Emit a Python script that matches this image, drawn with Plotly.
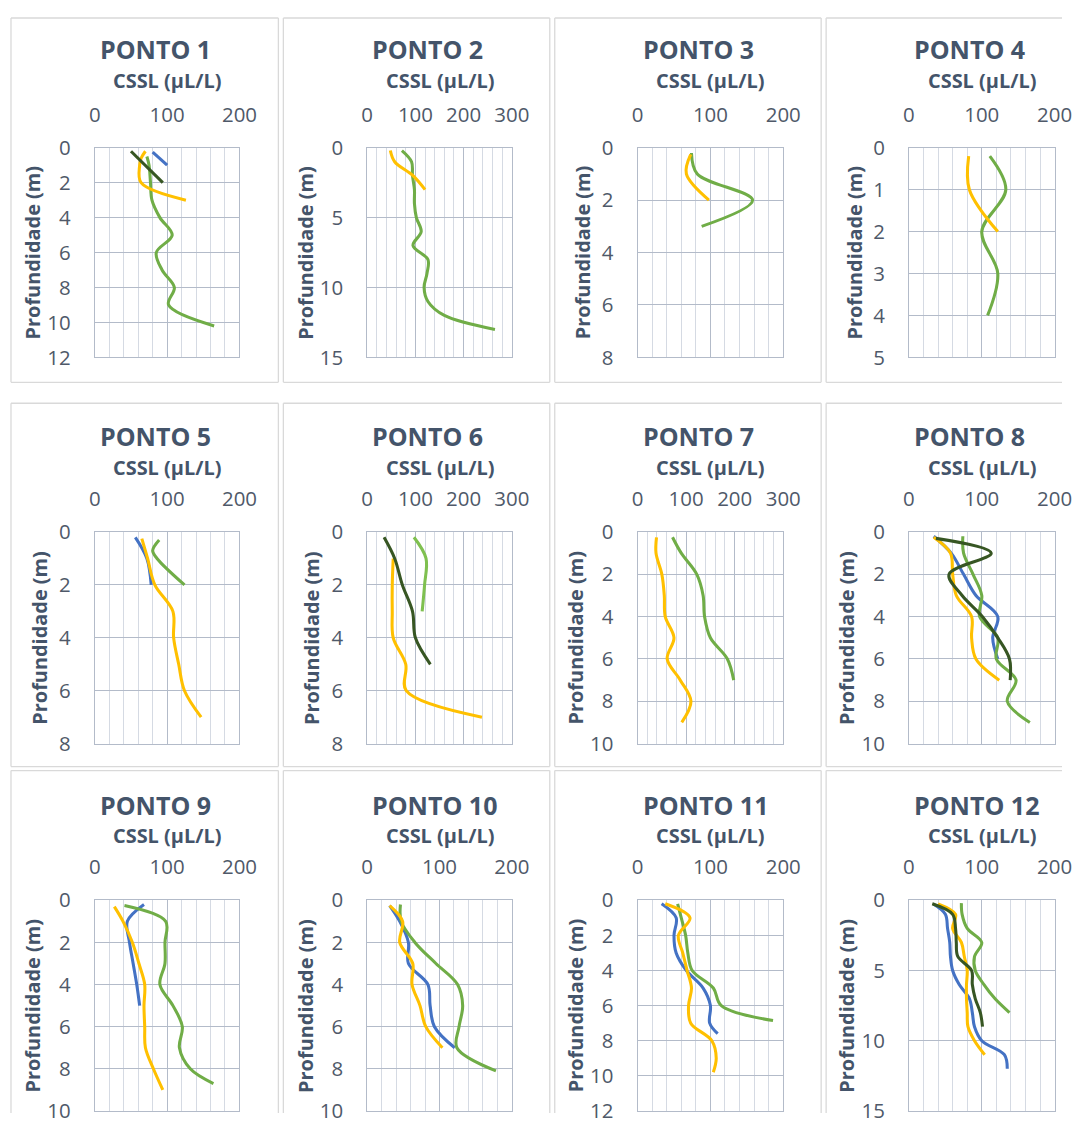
import plotly.graph_objects as go

# ---------------- DATA (profundidade em m, CSSL em µL/L) ----------------
p1_azul_prof = [0.25, 1.0]
p1_azul_cssl = [80, 100]
p1_amarelo_prof = [0.2, 0.6, 1, 2, 3]
p1_amarelo_cssl = [70, 64, 62, 64, 126]
p1_verde_prof = [0.5, 1, 2, 3, 4, 5, 6, 7, 8, 9, 10.2]
p1_verde_cssl = [72, 75, 77, 79, 90, 107, 85, 93, 110, 102, 165]
p1_escuro_prof = [0.2, 2.0]
p1_escuro_cssl = [50, 94]

p2_amarelo_prof = [0.2, 1, 2, 3]
p2_amarelo_cssl = [48, 57, 95, 120]
p2_verde_prof = [0.2, 1, 2, 3, 4, 5, 6, 7, 8, 9, 10, 11, 12, 13]
p2_verde_cssl = [72, 92, 94, 98, 98, 102, 112, 95, 126, 124, 118, 126, 160, 265]

p3_amarelo_prof = [0.25, 1, 2]
p3_amarelo_cssl = [73, 67, 98]
p3_verde_prof = [0.2, 1, 2, 3]
p3_verde_cssl = [74, 82, 158, 88]

p4_amarelo_prof = [0.2, 1, 2]
p4_amarelo_cssl = [82, 83, 122]
p4_verde_prof = [0.2, 1, 2, 3, 4]
p4_verde_cssl = [111, 133, 100, 122, 108]

p5_azul_prof = [0.2, 1, 2]
p5_azul_cssl = [56, 72, 78]
p5_amarelo_prof = [0.25, 1, 2, 3, 4, 5, 6, 7]
p5_amarelo_cssl = [65, 73, 83, 108, 109, 116, 124, 147]
p5_verde_prof = [0.3, 0.7, 1, 2]
p5_verde_cssl = [89, 80, 86, 124]

p6_amarelo_prof = [1, 2, 3, 4, 5, 6, 7]
p6_amarelo_cssl = [54, 52, 52, 54, 80, 81, 238]
p6_verdeclaro_prof = [0.2, 1, 2, 3]
p6_verdeclaro_cssl = [97, 122, 119, 114]
p6_escuro_prof = [0.2, 1, 2, 3, 4, 5]
p6_escuro_cssl = [35, 57, 73, 94, 100, 131]

p7_amarelo_prof = [0.25, 1, 2, 3, 4, 5, 6, 7, 8, 9]
p7_amarelo_cssl = [39, 38, 50, 55, 57, 75, 61, 88, 110, 91]
p7_verde_prof = [0.25, 1, 2, 3, 4, 5, 6, 7]
p7_verde_cssl = [72, 90, 122, 135, 138, 150, 185, 198]

p8_azul_prof = [0.2, 1, 2, 3, 4, 5, 6]
p8_azul_cssl = [34, 58, 75, 92, 122, 115, 122]
p8_amarelo_prof = [0.25, 1, 2, 3, 4, 5, 6, 7]
p8_amarelo_cssl = [34, 57, 60, 65, 86, 86, 92, 124]
p8_verde_prof = [0.2, 1, 2, 3, 4, 5, 6, 7, 8, 9]
p8_verde_cssl = [74, 75, 88, 100, 97, 122, 120, 147, 135, 166]
p8_escuro_prof = [0.3, 1, 2, 3, 4, 5, 6, 7]
p8_escuro_cssl = [37, 113, 55, 73, 101, 122, 138, 139]

p9_azul_prof = [0.2, 1, 2, 3, 4, 5]
p9_azul_cssl = [68, 45, 48, 53, 58, 62]
p9_amarelo_prof = [0.3, 1, 2, 3, 4, 5, 6, 7, 8, 9]
p9_amarelo_cssl = [27, 39, 52, 61, 69, 68, 69, 70, 81, 94]
p9_verde_prof = [0.25, 1, 2, 3, 4, 5, 6, 7, 8, 8.7]
p9_verde_cssl = [41, 98, 97, 97, 90, 108, 121, 117, 132, 164]

p10_azul_prof = [0.25, 1, 2, 3, 4, 5, 6, 7]
p10_azul_cssl = [31, 45, 57, 57, 84, 87, 93, 121]
p10_amarelo_prof = [0.25, 1, 2, 3, 4, 5, 6, 7]
p10_amarelo_cssl = [31, 49, 45, 63, 62, 73, 81, 104]
p10_verde_prof = [0.2, 1, 2, 3, 4, 5, 6, 7, 8.1]
p10_verde_cssl = [46, 47, 66, 95, 125, 132, 127, 124, 178]

p11_azul_prof = [0.2, 1, 2, 3, 4, 5, 6, 7, 7.6]
p11_azul_cssl = [33, 53, 50, 53, 67, 90, 100, 99, 110]
p11_amarelo_prof = [0.2, 1, 2, 3, 4, 5, 6, 7, 8, 9, 9.8]
p11_amarelo_cssl = [38, 72, 56, 62, 68, 74, 70, 73, 102, 108, 104]
p11_verde_prof = [0.2, 1, 2, 3, 4, 5, 6, 6.85]
p11_verde_cssl = [55, 60, 66, 69, 75, 104, 115, 186]

p12_azul_prof = [0.25, 1, 2, 3, 4, 5, 6, 7, 8, 9, 10, 11, 12]
p12_azul_cssl = [33, 50, 53, 56, 57, 60, 69, 83, 87, 90, 100, 131, 135]
p12_amarelo_prof = [0.25, 1, 2, 3, 4, 5, 6, 7, 8, 9, 10, 11]
p12_amarelo_cssl = [40, 64, 60, 72, 76, 80, 79, 79, 80, 81, 90, 104]
p12_verde_prof = [0.2, 1, 2, 3, 4, 5, 6, 7, 8]
p12_verde_cssl = [72, 73, 80, 100, 90, 91, 103, 118, 138]
p12_escuro_prof = [0.25, 1, 2, 3, 4, 5, 6, 7, 8, 9]
p12_escuro_cssl = [32, 60, 64, 65, 67, 86, 87, 91, 98, 101]

panel_titles = ["PONTO %d" % i for i in range(1, 13)]
x_max = [200, 300, 200, 200, 200, 300, 300, 200, 200, 200, 200, 200]
y_max = [12, 15, 8, 5, 8, 8, 10, 10, 10, 10, 12, 15]
y_dtick = [2, 5, 2, 1, 2, 2, 2, 2, 2, 2, 2, 5]
x_title = "CSSL (µL/L)"
y_title = "Profundidade (m)"

AZUL = "#4472C4"
AMARELO = "#FFC000"
VERDE = "#70AD47"
VERDE_CLARO = "#7FC050"
VERDE_ESCURO = "#375623"

# series per panel (drawing order)
panel_series = [
    [(p1_azul_prof, p1_azul_cssl, AZUL), (p1_verde_prof, p1_verde_cssl, VERDE),
     (p1_amarelo_prof, p1_amarelo_cssl, AMARELO), (p1_escuro_prof, p1_escuro_cssl, VERDE_ESCURO)],
    [(p2_verde_prof, p2_verde_cssl, VERDE), (p2_amarelo_prof, p2_amarelo_cssl, AMARELO)],
    [(p3_verde_prof, p3_verde_cssl, VERDE), (p3_amarelo_prof, p3_amarelo_cssl, AMARELO)],
    [(p4_verde_prof, p4_verde_cssl, VERDE), (p4_amarelo_prof, p4_amarelo_cssl, AMARELO)],
    [(p5_azul_prof, p5_azul_cssl, AZUL), (p5_verde_prof, p5_verde_cssl, VERDE),
     (p5_amarelo_prof, p5_amarelo_cssl, AMARELO)],
    [(p6_verdeclaro_prof, p6_verdeclaro_cssl, VERDE_CLARO), (p6_amarelo_prof, p6_amarelo_cssl, AMARELO),
     (p6_escuro_prof, p6_escuro_cssl, VERDE_ESCURO)],
    [(p7_verde_prof, p7_verde_cssl, VERDE), (p7_amarelo_prof, p7_amarelo_cssl, AMARELO)],
    [(p8_azul_prof, p8_azul_cssl, AZUL), (p8_verde_prof, p8_verde_cssl, VERDE),
     (p8_amarelo_prof, p8_amarelo_cssl, AMARELO), (p8_escuro_prof, p8_escuro_cssl, VERDE_ESCURO)],
    [(p9_azul_prof, p9_azul_cssl, AZUL), (p9_verde_prof, p9_verde_cssl, VERDE),
     (p9_amarelo_prof, p9_amarelo_cssl, AMARELO)],
    [(p10_azul_prof, p10_azul_cssl, AZUL), (p10_verde_prof, p10_verde_cssl, VERDE),
     (p10_amarelo_prof, p10_amarelo_cssl, AMARELO)],
    [(p11_azul_prof, p11_azul_cssl, AZUL), (p11_verde_prof, p11_verde_cssl, VERDE),
     (p11_amarelo_prof, p11_amarelo_cssl, AMARELO)],
    [(p12_azul_prof, p12_azul_cssl, AZUL), (p12_verde_prof, p12_verde_cssl, VERDE),
     (p12_amarelo_prof, p12_amarelo_cssl, AMARELO), (p12_escuro_prof, p12_escuro_cssl, VERDE_ESCURO)],
]

# ---------------- LAYOUT GEOMETRY (target pixels in the photograph) ----------------
W, H = 1080, 1126
col_plot_left = [93, 366, 637, 909]
col_plot_right = [238, 511, 783, 1055]
row_plot_top = [143, 528, 897]
row_plot_bottom = [353, 740, 1108]
row_title_y = [44, 432, 802]
row_sub_y = [76, 463, 832]
box_left = [9, 282, 554, 826]
box_right = [277, 549, 821, None]   # last column runs off the right edge
box_top = [13, 399, 767]
box_bottom = [378, 763, None]       # last row runs off the bottom edge

# the photograph shows the page slightly reduced and offset; compensate
SX, OX = 0.980, 4.0
SY, OY = 0.977, 10.0
K = 1.0 / ((SX + SY) / 2)

FONT = "Open Sans"
TITLE_COLOR = "#44546A"
TICK_COLOR = "#4F5969"
GRID = "#B3BBC9"
MINOR = "#D5DAE3"
BOX = "#D9D9D9"

fig = go.Figure()
layout = dict(
    width=W, height=H, margin=dict(l=0, r=0, t=0, b=0),
    paper_bgcolor="white", plot_bgcolor="white", showlegend=False,
    font=dict(family=FONT, color=TICK_COLOR),
)
annotations = []
shapes = []

def px_x(v):
    p = (v - OX) / SX
    return min(max(p / W, 0.0), 1.0)

def px_y(v):
    p = (v - OY) / SY
    return min(max(1 - p / H, 0.0), 1.0)

for i in range(12):
    r, c = divmod(i, 4)
    n = "" if i == 0 else str(i + 1)
    L, R = col_plot_left[c], col_plot_right[c]
    T, B = row_plot_top[r], row_plot_bottom[r]
    layout["xaxis" + n] = dict(
        domain=[px_x(L), px_x(R)], anchor="y" + n, side="top",
        range=[0, x_max[i]], dtick=100, tick0=0,
        showgrid=True, gridcolor=GRID, gridwidth=1,
        minor=dict(dtick=20, tick0=0, showgrid=True, gridcolor=MINOR, gridwidth=1),
        zeroline=False, showline=True, linecolor=GRID, linewidth=1, mirror=True,
        ticks="outside", ticklen=round(17 * K), tickcolor="rgba(0,0,0,0)",
        tickfont=dict(size=20 * K, family=FONT, color=TICK_COLOR),
        fixedrange=True,
    )
    layout["yaxis" + n] = dict(
        domain=[px_y(B), px_y(T)], anchor="x" + n,
        range=[y_max[i], 0], dtick=y_dtick[i], tick0=0,
        showgrid=True, gridcolor=GRID, gridwidth=1,
        zeroline=False, showline=True, linecolor=GRID, linewidth=1, mirror=True,
        ticks="outside", ticklen=round(19 * K), tickcolor="rgba(0,0,0,0)",
        tickfont=dict(size=20 * K, family=FONT, color=TICK_COLOR),
        fixedrange=True,
    )
    for prof, cssl, color in panel_series[i]:
        fig.add_trace(go.Scatter(
            x=cssl, y=prof, mode="lines", xaxis="x" + n, yaxis="y" + n,
            line=dict(color=color, width=3.0 * K, shape="spline", smoothing=1),
            hoverinfo="x+y",
        ))
    annotations.append(dict(
        text="<b>%s</b>" % panel_titles[i], x=px_x(L + 3), y=px_y(row_title_y[r]),
        xref="paper", yref="paper", xanchor="left", yanchor="middle", showarrow=False,
        font=dict(size=24.5 * K, family=FONT, color=TITLE_COLOR),
    ))
    annotations.append(dict(
        text="<b>%s</b>" % x_title, x=px_x((L + R) / 2), y=px_y(row_sub_y[r]),
        xref="paper", yref="paper", xanchor="center", yanchor="middle", showarrow=False,
        font=dict(size=19.5 * K, family=FONT, color=TITLE_COLOR),
    ))
    off = 62 if y_max[i] >= 10 else 55
    annotations.append(dict(
        text="<b>%s</b>" % y_title, x=px_x(L - off), y=px_y((T + B) / 2),
        xref="paper", yref="paper", xanchor="center", yanchor="middle", showarrow=False,
        textangle=-90, font=dict(size=19.5 * K, family=FONT, color=TITLE_COLOR),
    ))

def seg(x0, y0, x1, y1):
    shapes.append(dict(
        type="line", xref="paper", yref="paper",
        x0=px_x(x0), y0=px_y(y0), x1=px_x(x1), y1=px_y(y1),
        line=dict(color=BOX, width=1.3), layer="below",
    ))

for r in range(3):
    for c in range(4):
        xl = box_left[c]
        xr = box_right[c] if box_right[c] is not None else W + 40
        yt = box_top[r]
        yb = box_bottom[r] if box_bottom[r] is not None else H + 40
        seg(xl, yt, xr, yt)
        seg(xl, yt, xl, yb)
        if box_right[c] is not None:
            seg(xr, yt, xr, yb)
        if box_bottom[r] is not None:
            seg(xl, yb, xr, yb)

layout["annotations"] = annotations
layout["shapes"] = shapes
fig.update_layout(**layout)
fig.write_html("out.html", config={"displayModeBar": False})
